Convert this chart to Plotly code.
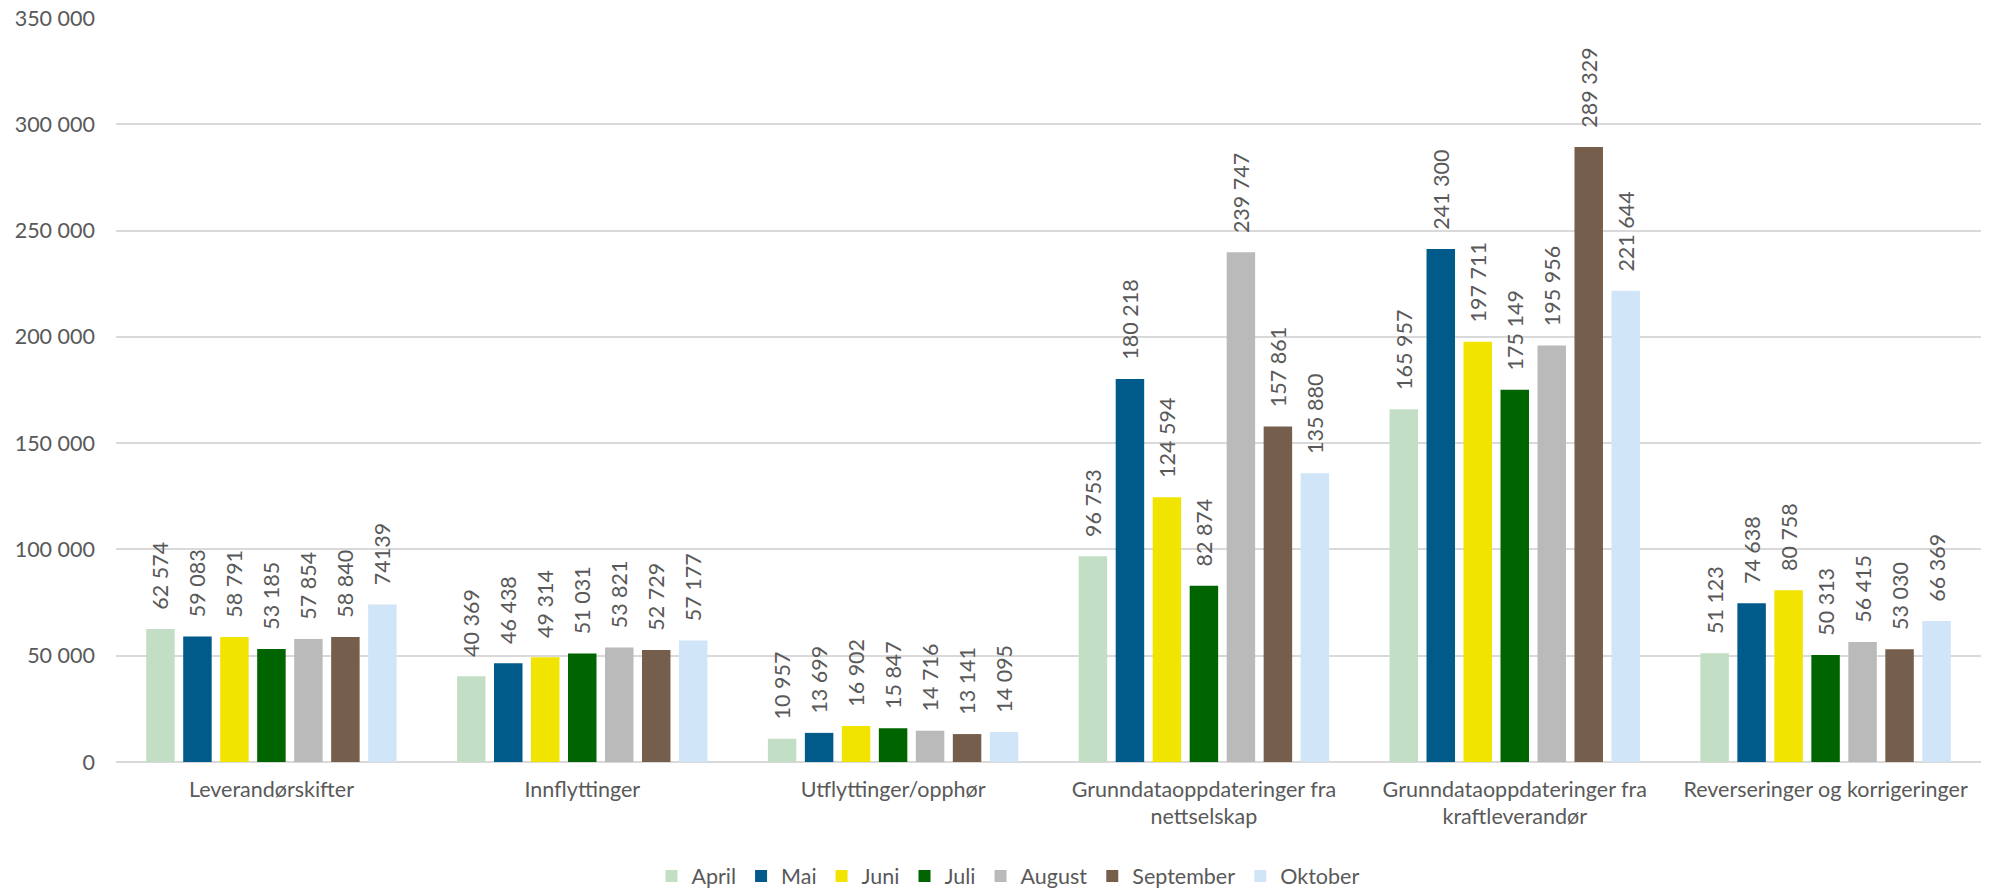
import plotly.graph_objects as go

# Categories on the x axis
categories = [
    "Leverandørskifter",
    "Innflyttinger",
    "Utflyttinger/opphør",
    "Grunndataoppdateringer fra<br>nettselskap",
    "Grunndataoppdateringer fra<br>kraftleverandør",
    "Reverseringer og korrigeringer",
]

# Monthly counts per category
april = [62574, 40369, 10957, 96753, 165957, 51123]
mai = [59083, 46438, 13699, 180218, 241300, 74638]
juni = [58791, 49314, 16902, 124594, 197711, 80758]
juli = [53185, 51031, 15847, 82874, 175149, 50313]
august = [57854, 53821, 14716, 239747, 195956, 56415]
september = [58840, 52729, 13141, 157861, 289329, 53030]
oktober = [74139, 57177, 14095, 135880, 221644, 66369]

months = ["April", "Mai", "Juni", "Juli", "August", "September", "Oktober"]
series = [april, mai, juni, juli, august, september, oktober]
colors = ["#C2DFC5", "#005A8A", "#F0E400", "#006400", "#BABABA", "#765E4C", "#D0E5F8"]

# Labels printed without a thousands separator
unspaced = {("Oktober", 0)}

tick_vals = [0, 50000, 100000, 150000, 200000, 250000, 300000, 350000]
tick_text = ["0", "50 000", "100 000", "150 000", "200 000", "250 000", "300 000", "350 000"]

TEXT_COLOR = "#595959"
FONT = "Lato"
SIZE = 21.5


def fmt(v, month, idx):
    if (month, idx) in unspaced:
        return str(v)
    return f"{v:,}".replace(",", " ")


fig = go.Figure()
for month, vals, col in zip(months, series, colors):
    labels = ["\u2002\u00a0" + fmt(v, month, i) for i, v in enumerate(vals)]
    fig.add_trace(
        go.Bar(
            name=month,
            x=categories,
            y=vals,
            marker=dict(color=col, line=dict(width=0)),
            text=labels,
            textposition="outside",
            textangle=-90,
            constraintext="none",
            cliponaxis=False,
            textfont=dict(family=FONT, size=SIZE, color=TEXT_COLOR),
        )
    )

fig.update_layout(
    width=1992,
    height=889,
    barmode="group",
    bargap=0.167,
    bargroupgap=0.23,
    plot_bgcolor="white",
    paper_bgcolor="white",
    margin=dict(l=116, r=11, t=18, b=127, autoexpand=False),
    font=dict(family=FONT, size=SIZE, color=TEXT_COLOR),
    legend=dict(
        orientation="h",
        xref="container",
        yref="container",
        x=0.506,
        xanchor="center",
        y=0.0146,
        yanchor="middle",
        font=dict(family=FONT, size=SIZE, color=TEXT_COLOR),
        itemwidth=30,
        traceorder="normal",
    ),
    showlegend=True,
)

fig.update_yaxes(
    range=[0, 350000],
    tickvals=tick_vals,
    ticktext=tick_text,
    showgrid=True,
    gridcolor="#D9D9D9",
    gridwidth=1.5,
    zeroline=True,
    zerolinecolor="#D9D9D9",
    zerolinewidth=1.5,
    ticks="",
    ticklabelstandoff=20,
    showline=False,
    automargin=False,
    tickfont=dict(family=FONT, size=SIZE, color=TEXT_COLOR),
)
fig.update_xaxes(
    showgrid=False,
    ticks="",
    ticklabelstandoff=12,
    showline=False,
    automargin=False,
    tickfont=dict(family=FONT, size=SIZE, color=TEXT_COLOR),
)

fig.write_html("out.html")
